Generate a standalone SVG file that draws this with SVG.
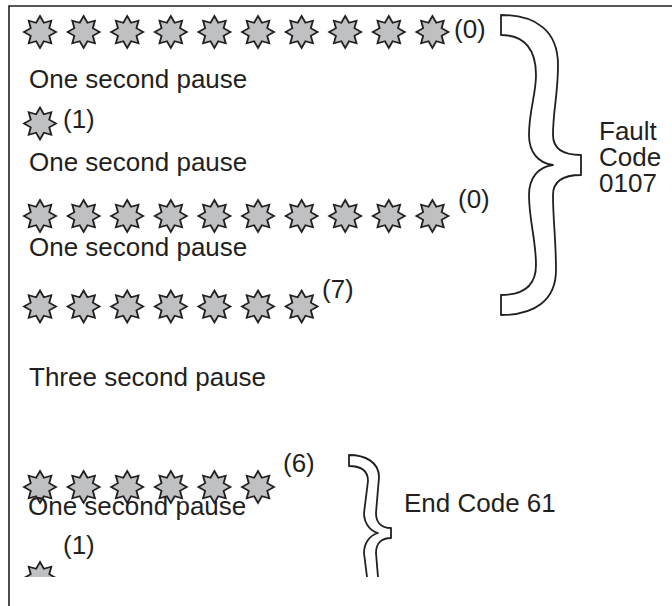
<svg xmlns="http://www.w3.org/2000/svg" xmlns:xlink="http://www.w3.org/1999/xlink" width="672" height="606" viewBox="0 0 672 606">
<style>
  .t { font-family: "Liberation Sans", Arial, sans-serif; font-size: 26px; fill: #231f20; }
  .star { fill: #bfc0c2; stroke: #231f20; stroke-width: 1.8; stroke-linejoin: miter; }
  .brace { fill: #ffffff; stroke: #231f20; stroke-width: 1.8; stroke-linejoin: round; }
  .frame { fill: none; stroke: #231f20; stroke-width: 1.6; }
</style>
<defs>
  <path id="s" class="star" d="M0,-16 L3.83,-9.24 L11.31,-11.31 L9.24,-3.83 L16,0 L9.24,3.83 L11.31,11.31 L3.83,9.24 L0,16 L-3.83,9.24 L-11.31,11.31 L-9.24,3.83 L-16,0 L-9.24,-3.83 L-11.31,-11.31 L-3.83,-9.24 Z"/>
  <clipPath id="cut"><rect x="0" y="0" width="672" height="577"/></clipPath>
</defs>
<rect width="672" height="606" fill="#ffffff"/>
<g id="frame">
  <path class="frame" d="M9,606 L9,6 L672,6"/>
</g>
<g id="row1">
  <use xlink:href="#s" x="40" y="32"/><use xlink:href="#s" x="83.6" y="32"/><use xlink:href="#s" x="127.2" y="32"/><use xlink:href="#s" x="170.8" y="32"/><use xlink:href="#s" x="214.4" y="32"/><use xlink:href="#s" x="258" y="32"/><use xlink:href="#s" x="301.6" y="32"/><use xlink:href="#s" x="345.2" y="32"/><use xlink:href="#s" x="388.8" y="32"/><use xlink:href="#s" x="432.4" y="32"/>
  <text class="t" x="454" y="38">(0)</text>
</g>
<text class="t" x="29" y="88">One second pause</text>
<g id="row2">
  <use xlink:href="#s" x="40" y="123.5"/>
  <text class="t" x="63" y="128">(1)</text>
</g>
<text class="t" x="29" y="171">One second pause</text>
<g id="row3">
  <use xlink:href="#s" x="40" y="216"/><use xlink:href="#s" x="83.6" y="216"/><use xlink:href="#s" x="127.2" y="216"/><use xlink:href="#s" x="170.8" y="216"/><use xlink:href="#s" x="214.4" y="216"/><use xlink:href="#s" x="258" y="216"/><use xlink:href="#s" x="301.6" y="216"/><use xlink:href="#s" x="345.2" y="216"/><use xlink:href="#s" x="388.8" y="216"/><use xlink:href="#s" x="432.4" y="216"/>
  <text class="t" x="458" y="208">(0)</text>
</g>
<text class="t" x="29" y="256">One second pause</text>
<g id="row4">
  <use xlink:href="#s" x="40" y="306.5"/><use xlink:href="#s" x="83.6" y="306.5"/><use xlink:href="#s" x="127.2" y="306.5"/><use xlink:href="#s" x="170.8" y="306.5"/><use xlink:href="#s" x="214.4" y="306.5"/><use xlink:href="#s" x="258" y="306.5"/><use xlink:href="#s" x="301.6" y="306.5"/>
  <text class="t" x="322" y="298">(7)</text>
</g>
<text class="t" x="29" y="386">Three second pause</text>
<g id="brace-fault">
  <path class="brace" d="M501,15 C535,15 558,30 558,65 C558,95 553,110 553,135 C553,148 562,155 581,155 L581,175 C562,175 553,182 553,195 C553,220 556,240 556,270 C556,300 535,315 501,315 L501,295 C525,295 536,285 536,265 C536,240 529,220 529,195 C529,178 538,167 553,165 C538,163 529,152 529,135 C529,110 536,95 536,75 C536,50 525,35 501,35 Z"/>
  <text class="t" x="599" y="140"><tspan x="599" y="140">Fault</tspan><tspan x="599" y="166">Code</tspan><tspan x="599" y="192">0107</tspan></text>
</g>
<g id="end" clip-path="url(#cut)">
  <g id="row5">
    <use xlink:href="#s" x="40" y="487"/><use xlink:href="#s" x="83.6" y="487"/><use xlink:href="#s" x="127.2" y="487"/><use xlink:href="#s" x="170.8" y="487"/><use xlink:href="#s" x="214.4" y="487"/><use xlink:href="#s" x="258" y="487"/>
    <text class="t" x="283" y="472">(6)</text>
  </g>
  <text class="t" x="28" y="515">One second pause</text>
  <g id="row6">
    <use xlink:href="#s" x="40" y="578"/>
    <text class="t" x="63" y="554">(1)</text>
  </g>
  <g id="brace-end">
    <path class="brace" d="M349,455 C365,455 379,462 379,477 L376,513 C376,523 382,528 391,528 L391,538 C382,538 376,543 376,553 L379,589 C379,604 365,611 349,611 L349,600 C362,600 368,595 368,585 L364,553 C364,543 370,535 378,533 C370,531 364,523 364,513 L368,481 C368,471 362,466 349,466 Z"/>
    <text class="t" x="404" y="512">End Code 61</text>
  </g>
</g>
</svg>
